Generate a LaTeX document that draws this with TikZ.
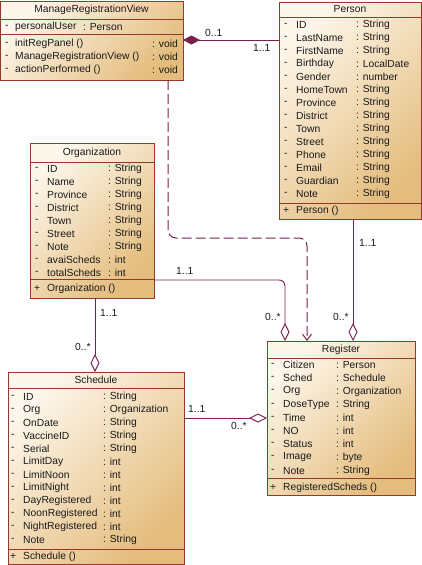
\documentclass[tikz,border=0pt]{standalone}
\usepackage{fontspec}
\setmainfont{Liberation Sans}
\usetikzlibrary{arrows.meta,calc}
\definecolor{boxc}{HTML}{96392C}
\definecolor{linec}{HTML}{7A1F4E}
\definecolor{fillA}{HTML}{FDF6EA}
\definecolor{fillB}{HTML}{E4BC7C}
\definecolor{txtc}{HTML}{1A1A1A}
\begin{document}
\begin{tikzpicture}[x=1pt,y=-1pt,font=\fontsize{10.3}{12}\selectfont,
  classbox/.style={draw=boxc, line width=0.9pt, top color=fillA, bottom color=fillB, shading angle=45, anchor=north west, inner sep=0pt, outer sep=0pt},
  sep/.style={draw=boxc, line width=0.9pt},
  txt/.style={anchor=west, inner sep=0pt, text=txtc},
  ttl/.style={anchor=center, inner sep=0pt, text=txtc},
  conn/.style={draw=linec, line width=0.9pt},
  mult/.style={anchor=west, inner sep=0pt, text=txtc},
  agg/.style={conn, -{Diamond[open, fill=white, length=18pt, width=9pt]}},
  comp/.style={conn, {Diamond[fill=linec, length=17pt, width=9pt]}-},
  dep/.style={conn, line width=1pt, dash pattern=on 10pt off 4pt, rounded corners=8pt, -{Straight Barb[length=6pt,width=9pt]}}]
\useasboundingbox (0,0) rectangle (422,565);

% ManageRegistrationView
\node[classbox, minimum width=183pt, minimum height=79pt] (mrv) at (0,1) {};
\draw[sep] ([yshift=-18pt]mrv.north west) -- ([yshift=-18pt]mrv.north east);
\draw[sep] ([yshift=-33pt]mrv.north west) -- ([yshift=-33pt]mrv.north east);
\node[ttl] (mrvT) at (91.5,10) {ManageRegistrationView};
\node[txt] (mrvAd) at (5,27) {-};
\node[txt] (mrvAn) at (15,27) {personalUser};
\node[txt] (mrvAt) at (83,27) {: Person};
\foreach \n [count=\i] in {initRegPanel (), ManageRegistrationView (), actionPerformed ()} {
  \node[txt] (mrvMd\i) at (5,{44+13*(\i-1)}) {-};
  \node[txt] (mrvMn\i) at (15,{44+13*(\i-1)}) {\n};
  \node[txt] (mrvMt\i) at (152,{44+13*(\i-1)}) {: void};
}

% Person
\node[classbox, minimum width=142pt, minimum height=217pt] (person) at (279,2) {};
\draw[sep] ([yshift=-15pt]person.north west) -- ([yshift=-15pt]person.north east);
\draw[sep] ([yshift=-201pt]person.north west) -- ([yshift=-201pt]person.north east);
\node[ttl] (personT) at (350,9) {Person};
\foreach \n/\t [count=\i] in {ID/String, LastName/String, FirstName/String, Birthday/LocalDate, Gender/number, HomeTown/String, Province/String, District/String, Town/String, Street/String, Phone/String, Email/String, Guardian/String, Note/String} {
  \node[txt] (pAd\i) at (284,{25+13*(\i-1)}) {-};
  \node[txt] (pAn\i) at (296,{25+13*(\i-1)}) {\n};
  \node[txt] (pAt\i) at (356,{25+13*(\i-1)}) {: \t};
}
\node[txt] (pMd) at (283,211) {+};
\node[txt] (pMn) at (296,211) {Person ()};

% Organization
\node[classbox, minimum width=124pt, minimum height=155pt] (org) at (30,143) {};
\draw[sep] ([yshift=-19pt]org.north west) -- ([yshift=-19pt]org.north east);
\draw[sep] ([yshift=-136pt]org.north west) -- ([yshift=-136pt]org.north east);
\node[ttl] (orgT) at (92,153) {Organization};
\foreach \n/\t [count=\i] in {ID/String, Name/String, Province/String, District/String, Town/String, Street/String, Note/String, avaiScheds/int, totalScheds/int} {
  \node[txt] (oAd\i) at (35,{169+13*(\i-1)}) {-};
  \node[txt] (oAn\i) at (47,{169+13*(\i-1)}) {\n};
  \node[txt] (oAt\i) at (108,{169+13*(\i-1)}) {: \t};
}
\node[txt] (oMd) at (34,289) {+};
\node[txt] (oMn) at (47,289) {Organization ()};

% Schedule
\node[classbox, minimum width=176pt, minimum height=192pt] (sched) at (8,372) {};
\draw[sep] ([yshift=-16pt]sched.north west) -- ([yshift=-16pt]sched.north east);
\draw[sep] ([yshift=-177pt]sched.north west) -- ([yshift=-177pt]sched.north east);
\node[ttl] (schedT) at (96,380) {Schedule};
\foreach \n/\t [count=\i] in {ID/String, Org/Organization, OnDate/String, VaccineID/String, Serial/String, LimitDay/int, LimitNoon/int, LimitNight/int, DayRegistered/int, NoonRegistered/int, NightRegistered/int, Note/String} {
  \node[txt] (sAd\i) at (11,{397+13*(\i-1)}) {-};
  \node[txt] (sAn\i) at (23,{397+13*(\i-1)}) {\n};
  \node[txt] (sAt\i) at (103,{397+13*(\i-1)}) {: \t};
}
\node[txt] (sMd) at (10,557) {+};
\node[txt] (sMn) at (23,557) {Schedule ()};

% Register
\node[classbox, minimum width=148pt, minimum height=154pt] (reg) at (267,341) {};
\draw[sep] ([yshift=-17pt]reg.north west) -- ([yshift=-17pt]reg.north east);
\draw[sep] ([yshift=-137pt]reg.north west) -- ([yshift=-137pt]reg.north east);
\node[ttl] (regT) at (341,350) {Register};
\foreach \n/\t [count=\i] in {Citizen/Person, Sched/Schedule, Org/Organization, DoseType/String, Time/int, NO/int, Status/int, Image/byte, Note/String} {
  \node[txt] (rAd\i) at (271,{365+13.2*(\i-1)}) {-};
  \node[txt] (rAn\i) at (283,{365+13.2*(\i-1)}) {\n};
  \node[txt] (rAt\i) at (336,{365+13.2*(\i-1)}) {: \t};
}
\node[txt] (rMd) at (270,488) {+};
\node[txt] (rMn) at (283,488) {RegisteredScheds ()};

% Connectors
\coordinate (c1) at ([yshift=-39pt]mrv.north east);
\draw[comp] (c1) -- (c1 -| person.west);
\node[mult] (m1a) at (205,33) {0..1};
\node[mult] (m1b) at (253,48) {1..1};

\coordinate (d1) at ([xshift=168pt]mrv.south west);
\coordinate (d2) at ([xshift=40pt]reg.north west);
\draw[dep] (d1) -- ([yshift=-158pt]d1) -| (d2);

\coordinate (o1) at ([yshift=-137pt]org.north east);
\coordinate (r1) at ([xshift=18pt]reg.north west);
\draw[agg, rounded corners=6pt] (o1) -| (r1);
\node[mult] (m2a) at (176,271) {1..1};
\node[mult] (m2b) at (265,317) {0..*};

\coordinate (p1) at ([xshift=74pt]person.south west);
\coordinate (r2) at ([xshift=86pt]reg.north west);
\draw[agg] (p1) -- (r2);
\node[mult] (m3a) at (359,243) {1..1};
\node[mult] (m3b) at (333,317) {0..*};

\coordinate (o2) at ([xshift=65pt]org.south west);
\draw[agg] (o2) -- (o2 |- sched.north);
\node[mult] (m4a) at (100,313) {1..1};
\node[mult] (m4b) at (75,347) {0..*};

\coordinate (s1) at ([yshift=-46pt]sched.north east);
\draw[agg] (s1) -- (s1 -| reg.west);
\node[mult] (m5a) at (188,409) {1..1};
\node[mult] (m5b) at (231,426) {0..*};
\end{tikzpicture}
\end{document}
